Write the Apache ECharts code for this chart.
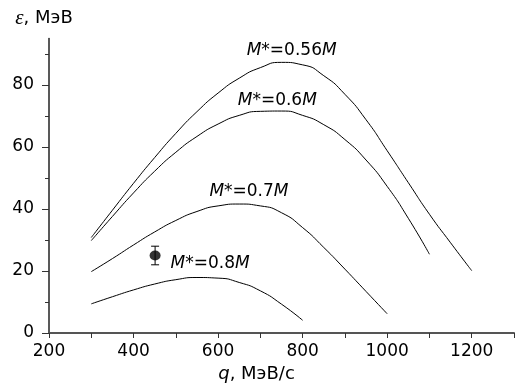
<!DOCTYPE html>
<html>
<head>
<meta charset="utf-8">
<script src="https://cdn.jsdelivr.net/npm/echarts@6/dist/echarts.min.js"></script>
<style>html,body{margin:0;padding:0;background:#fff}#c{width:517px;height:388px}</style>
</head>
<body>
<div id="c"></div>
<script>
// Curves: q (MeV/c) and epsilon (MeV)
const q056 = [300,350,400,450,500,550,600,650,700,750,800,850,900,950,1000,1050,1100,1150,1200];
const e056 = [30.8,39.6,48.3,56.6,64.4,71.4,77.4,82.2,85.6,87.3,86.5,83.0,77.0,68.8,58.8,48.5,38.3,29.1,20.1];
const q06 = [300,350,400,450,500,550,600,650,700,750,800,850,900,950,1000,1050,1100];
const e06 = [29.8,37.6,45.2,52.2,58.3,63.4,67.4,70.2,71.5,71.6,70.2,67.2,62.4,55.8,47.3,37.0,25.4];
const q07 = [300,350,400,450,500,550,600,650,700,750,800,850,900,950,1000];
const e07 = [19.8,24.0,28.4,32.6,36.3,39.2,41.0,41.6,41.0,38.8,34.0,27.6,20.6,13.4,6.2];
const q08 = [300,350,400,450,500,550,600,650,700,750,800];
const e08 = [9.4,11.7,13.9,15.8,17.2,17.9,17.7,16.3,13.6,9.3,4.1];
// Experimental point
const pointQ = [451];
const pointE = [25];
const pointErr = [3];
// Curve labels
const curveNames = ['0.56', '0.6', '0.7', '0.8'];
const labelQ = [774, 740, 673, 581];
const labelE = [91.0, 75.0, 45.6, 22.3];
// Ticks
const xLabelTicks = [200, 400, 600, 800, 1000, 1200];
const yMajorTicks = [0, 20, 40, 60, 80];
const yMinorTicks = [10, 30, 50, 70, 90];

const FONT = 'DejaVu Sans';
const zip = (a, b) => a.map((v, i) => [v, b[i]]);

function curveSeries(qs, es, idx) {
  return {
    type: 'line',
    data: zip(qs, es),
    smooth: 0.6,
    symbol: 'none',
    lineStyle: { color: '#000', width: 1 },
    silent: true,
    markPoint: {
      symbol: 'circle',
      symbolSize: 0,
      silent: true,
      label: {
        show: true,
        position: 'inside',
        formatter: '{i|M}{n|*=' + curveNames[idx] + '}{i|M}',
        rich: {
          i: { fontFamily: FONT, fontSize: 17, fontStyle: 'italic', color: '#000' },
          n: { fontFamily: FONT, fontSize: 17, color: '#000' }
        }
      },
      data: [{ coord: [labelQ[idx], labelE[idx]] }]
    }
  };
}

const chart = echarts.init(document.getElementById('c'));
chart.setOption({
  animation: false,
  backgroundColor: '#fff',
  grid: { left: 49, right: 0, top: 38.5, bottom: 55 },
  xAxis: {
    type: 'value',
    min: 200, max: 1300, interval: 100,
    name: '{i|q}{n|, МэВ/с}',
    nameLocation: 'middle',
    nameGap: 31,
    nameTextStyle: {
      padding: [0, 50, 0, 0],
      rich: {
        i: { fontFamily: FONT, fontSize: 18, fontStyle: 'italic', color: '#000' },
        n: { fontFamily: FONT, fontSize: 18, color: '#000' }
      }
    },
    axisLine: { show: true, onZero: false, lineStyle: { color: '#555', width: 2 } },
    axisTick: { show: true, length: 5, inside: false, lineStyle: { color: '#333', width: 1 } },
    axisLabel: {
      margin: 10,
      fontFamily: FONT, fontSize: 17, color: '#000',
      formatter: v => (xLabelTicks.indexOf(v) >= 0 ? String(v) : '')
    },
    splitLine: { show: false }
  },
  yAxis: [
    {
      type: 'value',
      min: 0, max: 95,
      position: 'left',
      name: '{e|ε}{n|, МэВ}',
      nameLocation: 'end',
      nameGap: 10,
      nameTextStyle: {
        align: 'center',
        padding: [0, 10, 0, 0],
        rich: {
          e: { fontFamily: 'Liberation Serif', fontSize: 21, fontStyle: 'italic', color: '#000' },
          n: { fontFamily: FONT, fontSize: 18, color: '#000' }
        }
      },
      axisLine: { show: true, onZero: false, lineStyle: { color: '#222', width: 1.5 } },
      axisTick: { show: true, length: 7, customValues: yMajorTicks, lineStyle: { color: '#333', width: 1 } },
      axisLabel: { margin: 15, fontFamily: FONT, fontSize: 17, color: '#000', customValues: yMajorTicks },
      splitLine: { show: false }
    },
    {
      type: 'value',
      min: 0, max: 95,
      position: 'left',
      axisLine: { show: false },
      axisTick: { show: true, length: 4, customValues: yMinorTicks, lineStyle: { color: '#333', width: 1 } },
      axisLabel: { show: false },
      splitLine: { show: false }
    }
  ],
  series: [
    curveSeries(q056, e056, 0),
    curveSeries(q06, e06, 1),
    curveSeries(q07, e07, 2),
    curveSeries(q08, e08, 3),
    {
      type: 'custom',
      silent: true,
      data: pointQ.map((q, i) => [q, pointE[i], pointE[i] - pointErr[i], pointE[i] + pointErr[i]]),
      renderItem: function (params, api) {
        const x = api.value(0);
        const lo = api.coord([x, api.value(2)]);
        const hi = api.coord([x, api.value(3)]);
        const hw = 4;
        const st = { stroke: '#000', lineWidth: 1 };
        return {
          type: 'group',
          children: [
            { type: 'line', shape: { x1: lo[0], y1: lo[1], x2: hi[0], y2: hi[1] }, style: st },
            { type: 'line', shape: { x1: lo[0] - hw, y1: lo[1], x2: lo[0] + hw, y2: lo[1] }, style: st },
            { type: 'line', shape: { x1: hi[0] - hw, y1: hi[1], x2: hi[0] + hw, y2: hi[1] }, style: st }
          ]
        };
      },
      z: 3
    },
    {
      type: 'scatter',
      silent: true,
      data: zip(pointQ, pointE),
      symbol: 'circle',
      symbolSize: [11, 10],
      itemStyle: { color: '#000' },
      z: 4
    }
  ]
});
</script>
</body>
</html>
